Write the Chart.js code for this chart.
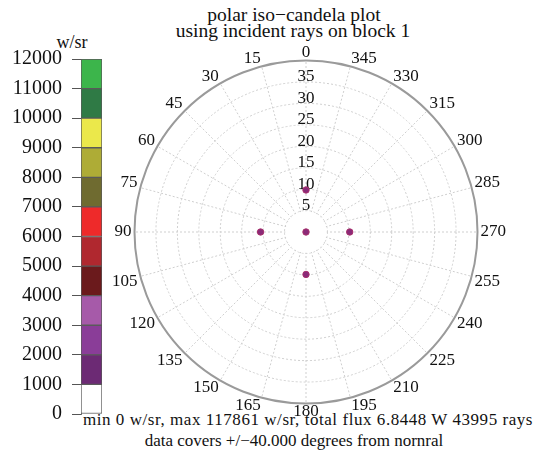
<!DOCTYPE html>
<html>
<head>
<meta charset="utf-8">
<script src="https://cdn.jsdelivr.net/npm/chart.js@4.4.0/dist/chart.umd.min.js"></script>
<style>
  body { margin: 0; background: #fff; width: 535px; height: 458px; position: relative; overflow: hidden;
         font-family: "Liberation Serif", "DejaVu Serif", serif; color: #111; }
  .txt { position: absolute; white-space: nowrap; line-height: 1; text-align: center; }
  canvas { position: absolute; }
</style>
</head>
<body>
<div class="txt" style="left:94px; top:5px; width:400px; font-size:19.5px;">polar iso−candela plot</div>
<div class="txt" style="left:93px; top:21px; width:400px; font-size:19.5px;">using incident rays on block 1</div>
<div class="txt" style="left:42px; top:33px; width:60px; font-size:18px;">w/sr</div>
<div class="txt" style="left:58px; top:411px; width:500px; font-size:17px; letter-spacing:0.55px;">min 0 w/sr, max 117861 w/sr, total flux 6.8448 W 43995 rays</div>
<div class="txt" style="left:44px; top:432px; width:500px; font-size:17px;">data covers +/−40.000 degrees from nornral</div>

<canvas id="bar" width="110" height="406" style="left:0; top:30px;"></canvas>
<canvas id="polar" width="400" height="420" style="left:110px; top:23px;"></canvas>

<script>
// colour bar (w/sr), bottom band first
var bandTicks = [0, 1000, 2000, 3000, 4000, 5000, 6000, 7000, 8000, 9000, 10000, 11000, 12000];
var bandSize = 1000;
var bandColors = ['#ffffff', '#6c2a74', '#8a3d98', '#a65aa9', '#6b1a1c', '#b0282f', '#ee2a2a',
                  '#6f6b30', '#aeac36', '#ebe84b', '#2f7a45', '#3cb54b'];

// angle labels, clockwise from the top (so they read counter-clockwise)
var angleDegrees = [0, 345, 330, 315, 300, 285, 270, 255, 240, 225, 210, 195,
                    180, 165, 150, 135, 120, 105, 90, 75, 60, 45, 30, 15];
var radiusTicks = [5, 10, 15, 20, 25, 30, 35];
var radiusMax = 40;

// ray spots: angle (deg) and radius (deg from normal)
var spotAngles = [0, 90, 180, 270];
var spotRadii = [9.8, 10.6, 9.9, 10.2];
var centreSpot = 0;

var serif = 'Liberation Serif';

/*******************************
* colour bar on the left
*******************************/
var bandSets = bandColors.map(function (c) {
  return {
    data: [bandSize],
    backgroundColor: c,
    borderColor: '#5a5a5a',
    borderWidth: 1,
    borderSkipped: false,
    categoryPercentage: 1,
    barPercentage: 1
  };
});

new Chart('bar', {
  type: 'bar',
  data: { labels: [''], datasets: bandSets },
  options: {
    responsive: false,
    animation: false,
    layout: { padding: { left: 12, right: 8, top: 29, bottom: 0 } },
    plugins: { legend: { display: false }, tooltip: { enabled: false } },
    scales: {
      x: { stacked: true, display: false },
      y: {
        stacked: true,
        min: bandTicks[0],
        max: bandTicks[bandTicks.length - 1],
        afterBuildTicks: function (s) { s.ticks = bandTicks.map(function (v) { return { value: v }; }); },
        afterFit: function (s) { s.width = 69; },
        ticks: {
          color: '#111', padding: 10, font: { family: serif, size: 20 },
          callback: function (v) { return String(v); }
        },
        grid: { drawOnChartArea: false, tickLength: 9, color: '#555' },
        border: { display: true, color: '#777' }
      }
    }
  }
});

/*******************************
* polar iso-candela plot
*******************************/
var spotData = angleDegrees.map(function (a) {
  var k = spotAngles.indexOf(a);
  return k >= 0 ? spotRadii[k] : null;
});
var centreData = angleDegrees.map(function (a, i) { return i === 0 ? centreSpot : null; });

var spotStyle = {
  showLine: false,
  pointRadius: 3.2,
  pointBackgroundColor: '#8a2a78',
  pointBorderColor: '#a8306c',
  pointBorderWidth: 1,
  backgroundColor: 'transparent',
  borderColor: 'transparent'
};

// keep the spokes out of the innermost ring, then put the ring values just above their rings
var hubAndValues = {
  id: 'hubAndValues',
  beforeDatasetsDraw: function (chart) {
    var r = chart.scales.r;
    var ctx = chart.ctx;
    ctx.save();
    ctx.fillStyle = '#fff';
    ctx.beginPath();
    ctx.arc(r.xCenter, r.yCenter, r.getDistanceFromCenterForValue(radiusTicks[0]) - 0.7, 0, 2 * Math.PI);
    ctx.fill();
    ctx.font = '17px "' + serif + '"';
    ctx.fillStyle = '#111';
    ctx.textAlign = 'center';
    ctx.textBaseline = 'middle';
    radiusTicks.forEach(function (v) {
      ctx.fillText(String(v), r.xCenter, r.yCenter - r.getDistanceFromCenterForValue(v) - 5);
    });
    ctx.restore();
  }
};

new Chart('polar', {
  type: 'radar',
  data: {
    labels: angleDegrees.map(String),
    datasets: [
      Object.assign({ data: spotData }, spotStyle),
      Object.assign({ data: centreData }, spotStyle)
    ]
  },
  options: {
    responsive: false,
    animation: false,
    plugins: { legend: { display: false }, tooltip: { enabled: false } },
    scales: {
      r: {
        min: 0,
        max: radiusMax,
        afterBuildTicks: function (s) {
          s.ticks = [0].concat(radiusTicks, [radiusMax]).map(function (v) { return { value: v }; });
        },
        ticks: { display: false },
        grid: {
          circular: true,
          color: function (c) { return c.tick && c.tick.value === radiusMax ? '#9a9a9a' : '#cfcfcf'; },
          lineWidth: function (c) { return c.tick && c.tick.value === radiusMax ? 2 : 1; }
        },
        border: {
          dash: function (c) { return c.tick && c.tick.value === radiusMax ? [] : [2, 2]; }
        },
        angleLines: { color: '#cfcfcf', lineWidth: 1, borderDash: [2, 2] },
        // small line height keeps the angle labels centred on their spokes
        pointLabels: { color: '#111', padding: 3, font: { family: serif, size: 17, lineHeight: 0.55 } }
      }
    }
  },
  plugins: [hubAndValues]
});
</script>
</body>
</html>
